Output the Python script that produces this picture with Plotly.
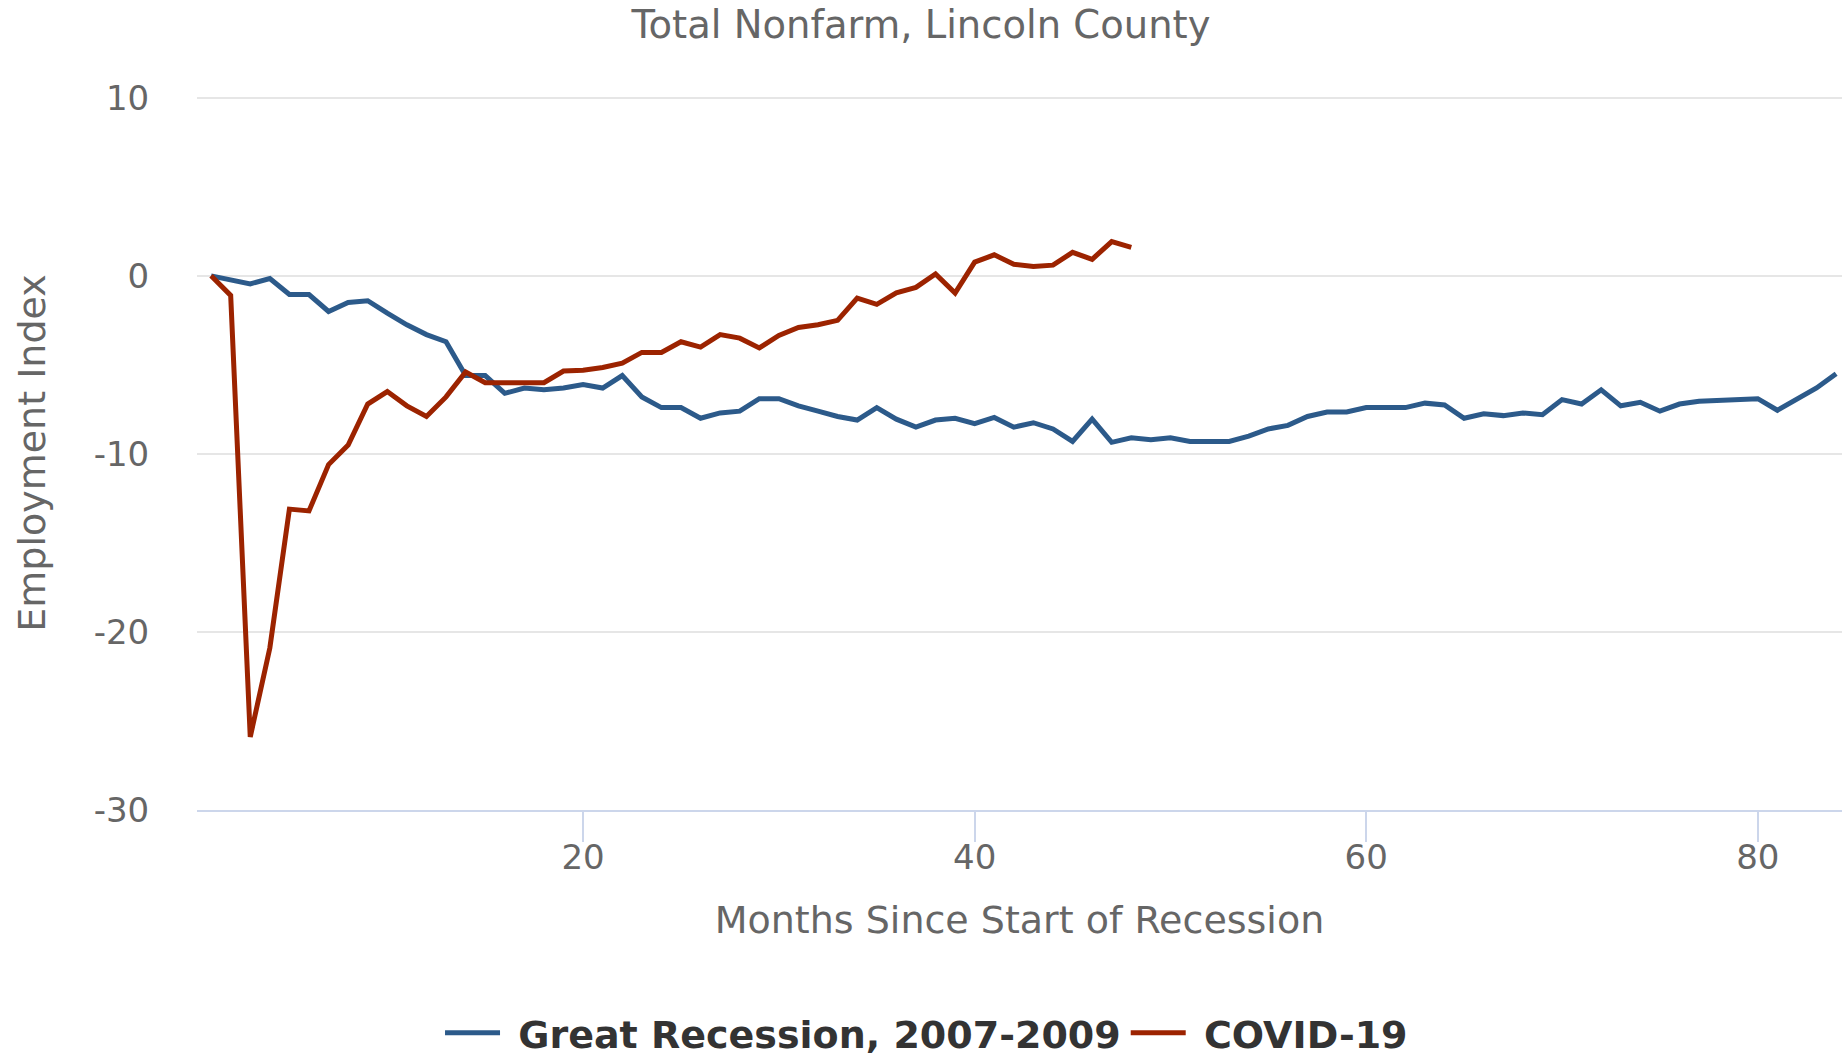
import plotly.graph_objects as go

months_gr = list(range(1, 85))
great_recession = [
    0, -0.2, -0.45, -0.15, -1.05, -1.05, -2.0, -1.5, -1.4, -2.1,
    -2.75, -3.3, -3.7, -5.6, -5.6, -6.6, -6.3, -6.4, -6.3, -6.1,
    -6.3, -5.6, -6.8, -7.4, -7.4, -8.0, -7.7, -7.6, -6.9, -6.9,
    -7.3, -7.6, -7.9, -8.1, -7.4, -8.05, -8.5, -8.1, -8.0, -8.3,
    -7.95, -8.5, -8.25, -8.6, -9.3, -8.05, -9.35, -9.1, -9.2, -9.1,
    -9.3, -9.3, -9.3, -9.0, -8.6, -8.4, -7.9, -7.65, -7.65, -7.4,
    -7.4, -7.4, -7.15, -7.25, -8.0, -7.75, -7.85, -7.7, -7.8, -6.95,
    -7.2, -6.4, -7.3, -7.1, -7.6, -7.2, -7.05, -7.0, -7.0, -6.9,
    -7.55, -6.9, -6.3, -5.5,
]

months_covid = list(range(1, 49))
covid = [
    0, -1.1, -25.9, -20.9, -13.1, -13.2, -10.6, -9.5, -7.2, -6.5,
    -7.3, -7.9, -6.8, -5.4, -6.0, -6.0, -6.0, -6.0, -5.35, -5.3,
    -5.15, -4.9, -4.3, -4.3, -3.7, -4.0, -3.3, -3.5, -4.05, -3.35,
    -2.9, -2.75, -2.5, -1.25, -1.6, -0.95, -0.65, 0.1, -0.97, 0.77,
    1.18, 0.65, 0.52, 0.6, 1.32, 0.93, 1.92, 1.6,
]

y_ticks = [-30, -20, -10, 0, 10]
x_ticks = [20, 40, 60, 80]

FONT = "DejaVu Sans"
GRAY = "#666666"
NBSP = "\u00a0"

fig = go.Figure()
fig.add_trace(go.Scatter(
    x=months_gr, y=great_recession, mode="lines",
    name=NBSP + "Great Recession, 2007-2009",
    line=dict(color="#2c5a8a", width=5),
))
fig.add_trace(go.Scatter(
    x=months_covid, y=covid, mode="lines",
    name=NBSP + "COVID-19",
    line=dict(color="#9c2300", width=5),
))

fig.update_layout(
    width=1842, height=1056,
    margin=dict(l=197, r=0, t=96, b=246),
    paper_bgcolor="white", plot_bgcolor="white",
    font=dict(family=FONT, color=GRAY),
    title=dict(
        text="Total Nonfarm, Lincoln County",
        font=dict(family=FONT, size=38.5, color=GRAY),
        x=0.5, xref="container", xanchor="center",
        y=1 - 25 / 1056, yref="container", yanchor="middle",
    ),
    legend=dict(
        orientation="h",
        x=0.503, xref="container", xanchor="center",
        y=1 - 1033 / 1056, yref="container", yanchor="middle",
        font=dict(family=FONT, size=38, color="#333333", weight="bold"),
        itemwidth=55,
        tracegroupgap=0,
    ),
    showlegend=True,
)

fig.update_xaxes(
    range=[0.28, 84.3],
    tickvals=x_ticks,
    ticktext=[str(v) for v in x_ticks],
    ticks="outside", ticklen=30, tickwidth=2, tickcolor="#ccd6eb",
    ticklabelstandoff=-14,
    showline=True, linecolor="#ccd6eb", linewidth=2,
    showgrid=False, zeroline=False,
    tickfont=dict(family=FONT, size=34, color=GRAY),
    title=dict(text="Months Since Start of Recession",
               font=dict(family=FONT, size=38, color=GRAY), standoff=31),
)

fig.update_yaxes(
    range=[-30, 10.1],
    tickvals=y_ticks,
    ticktext=[str(v) for v in y_ticks],
    ticks="outside", ticklen=40, tickcolor="rgba(0,0,0,0)",
    showgrid=True, gridcolor="#e6e6e6", gridwidth=2,
    zeroline=False, showline=False,
    tickfont=dict(family=FONT, size=34, color=GRAY),
    title=dict(text="Employment Index",
               font=dict(family=FONT, size=38, color=GRAY), standoff=36),
)

fig.write_html(
    "out.html",
    config={"displayModeBar": False},
    post_script="document.body.style.margin='0px';",
)
